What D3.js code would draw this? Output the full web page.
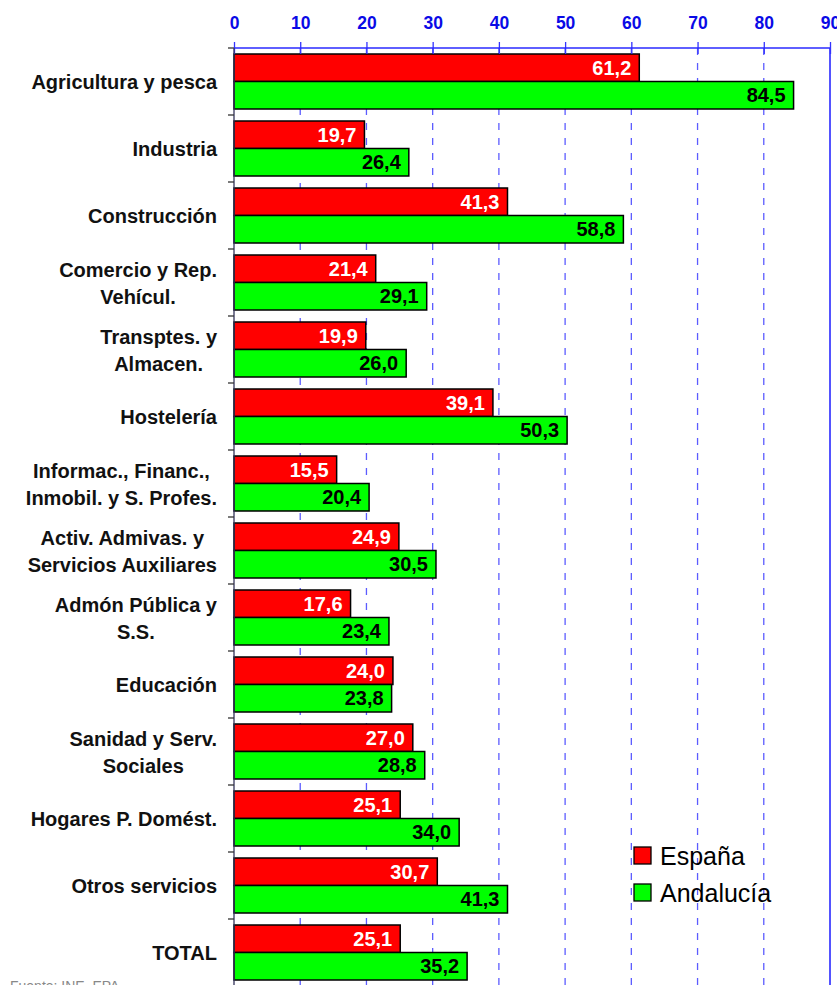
<!DOCTYPE html>
<html>
<head>
<meta charset="utf-8">
<script src="https://cdn.jsdelivr.net/npm/d3@7"></script>
<style>
  html, body { margin: 0; padding: 0; background: #fff; }
  svg { display: block; font-family: "Liberation Sans", Arial, sans-serif; }
</style>
</head>
<body>
<div id="app"></div>
<script>
const categories = [
  ['Agricultura y pesca'],
  ['Industria'],
  ['Construcción'],
  ['Comercio y Rep.', 'Vehícul.'],
  ['Transptes. y', 'Almacen.'],
  ['Hostelería'],
  ['Informac., Financ.,', 'Inmobil. y S. Profes.'],
  ['Activ. Admivas. y', 'Servicios Auxiliares'],
  ['Admón Pública y', 'S.S.'],
  ['Educación'],
  ['Sanidad y Serv.', 'Sociales'],
  ['Hogares P. Domést.'],
  ['Otros servicios'],
  ['TOTAL']
]
const series = ['España', 'Andalucía']
const espana = [61.2, 19.7, 41.3, 21.4, 19.9, 39.1, 15.5, 24.9, 17.6, 24.0, 27.0, 25.1, 30.7, 25.1]
const andalucia = [84.5, 26.4, 58.8, 29.1, 26.0, 50.3, 20.4, 30.5, 23.4, 23.8, 28.8, 34.0, 41.3, 35.2]
const ticks = [0, 10, 20, 30, 40, 50, 60, 70, 80, 90]
const source = 'Fuente: INE. EPA'

const colors = { 'España': '#ff0000', 'Andalucía': '#00ff00' }
const labelColors = { 'España': '#ffffff', 'Andalucía': '#000000' }

const width = 837
const height = 985
const m = { left: 234, right: 830, top: 48, bottom: 986 }

const keys = categories.map((d, i) => i)
const rows = keys.map(i => ({ i, name: categories[i], 'España': espana[i], 'Andalucía': andalucia[i] }))

const x = d3.scaleLinear().domain([0, 90]).range([m.left, m.right])
const y = d3.scaleBand().domain(keys).range([m.top, m.bottom])
const ySub = d3.scaleBand().domain(series).range([6, 61])

const fmt = v => d3.format('.1f')(v).replace('.', ',')

const svg = d3.select('#app')
  .append('svg')
  .attr('width', width)
  .attr('height', height)
  .attr('viewBox', [0, 0, width, height])

// vertical dashed gridlines
svg.append('g')
  .selectAll('line')
  .data(ticks.filter(t => t > 0 && t < 90))
  .join('line')
  .attr('x1', d => x(d)).attr('x2', d => x(d))
  .attr('y1', m.top).attr('y2', m.bottom)
  .attr('stroke', '#5c5cff')
  .attr('stroke-width', 1.3)
  .attr('stroke-dasharray', '7,8')

// right border
svg.append('line')
  .attr('x1', x(90)).attr('x2', x(90))
  .attr('y1', m.top).attr('y2', m.bottom)
  .attr('stroke', '#1a1aff')
  .attr('stroke-width', 1.5)

// bars
const group = svg.append('g')
  .selectAll('g')
  .data(rows)
  .join('g')
  .attr('transform', d => `translate(0,${y(d.i)})`)

group.selectAll('rect')
  .data(d => series.map(s => ({ s, v: d[s] })))
  .join('rect')
  .attr('x', x(0))
  .attr('y', d => ySub(d.s))
  .attr('width', d => x(d.v) - x(0))
  .attr('height', ySub.bandwidth())
  .attr('fill', d => colors[d.s])
  .attr('stroke', '#000')
  .attr('stroke-width', 1.5)

group.selectAll('text.val')
  .data(d => series.map(s => ({ s, v: d[s] })))
  .join('text')
  .attr('class', 'val')
  .attr('x', d => x(d.v) - 8)
  .attr('y', d => ySub(d.s) + ySub.bandwidth() / 2)
  .attr('dy', '0.36em')
  .attr('text-anchor', 'end')
  .attr('font-size', 20)
  .attr('font-weight', 'bold')
  .attr('fill', d => labelColors[d.s])
  .text(d => fmt(d.v))

// top axis
const axisTop = d3.axisTop(x).tickValues(ticks).tickSize(0).tickPadding(0)
const ax = svg.append('g')
  .attr('transform', `translate(0,${m.top})`)
  .call(axisTop)
ax.select('.domain').remove()
ax.selectAll('text')
  .attr('y', -19)
  .attr('font-size', 17.5)
  .attr('font-weight', 'bold')
  .attr('font-family', '"Liberation Sans", Arial, sans-serif')
  .attr('fill', '#0a0ae6')
ax.selectAll('.tick').append('line')
  .attr('y1', -6).attr('y2', 6)
  .attr('stroke', '#3333ff')
  .attr('stroke-width', 1.3)
svg.append('line')
  .attr('x1', m.left - 6).attr('x2', m.left)
  .attr('y1', m.top).attr('y2', m.top)
  .attr('stroke', '#333')
  .attr('stroke-width', 1.3)
svg.append('line')
  .attr('x1', m.left).attr('x2', m.right)
  .attr('y1', m.top).attr('y2', m.top)
  .attr('stroke', '#2a2aff')
  .attr('stroke-width', 1.6)

// left axis
svg.append('line')
  .attr('x1', m.left).attr('x2', m.left)
  .attr('y1', m.top).attr('y2', m.bottom)
  .attr('stroke', '#33335a')
  .attr('stroke-width', 1.3)
svg.append('g')
  .selectAll('line')
  .data(keys.slice(1))
  .join('line')
  .attr('x1', m.left - 6).attr('x2', m.left)
  .attr('y1', d => y(d)).attr('y2', d => y(d))
  .attr('stroke', '#333')
  .attr('stroke-width', 1.3)

// category labels
const labels = svg.append('g')
  .selectAll('text')
  .data(rows)
  .join('text')
  .attr('font-size', 20)
  .attr('font-weight', 'bold')
  .attr('fill', '#111')
  .attr('text-anchor', 'middle')

labels.each(function (d) {
  const t = d3.select(this)
  const n = d.name.length
  const cy = y(d.i) + 34
  d.name.forEach((line, k) => {
    t.append('tspan')
      .attr('y', cy + (k - (n - 1) / 2) * 27)
      .attr('dy', '0.36em')
      .text(line)
  })
  const spans = t.selectAll('tspan').nodes()
  const maxW = d3.max(spans, s => s.getComputedTextLength())
  t.selectAll('tspan').attr('x', 217 - maxW / 2)
})

// legend
const legend = svg.append('g')
  .selectAll('g')
  .data(series)
  .join('g')
  .attr('transform', (d, i) => `translate(634,${847 + i * 37})`)
legend.append('rect')
  .attr('width', 17).attr('height', 17)
  .attr('fill', d => colors[d])
  .attr('stroke', '#000')
  .attr('stroke-width', 1.3)
legend.append('text')
  .attr('x', 26).attr('y', 8.5)
  .attr('dy', '0.36em')
  .attr('font-size', 25)
  .attr('fill', '#000')
  .text(d => d)

// source
svg.append('text')
  .attr('x', 10).attr('y', 991)
  .attr('font-size', 14)
  .attr('fill', '#888')
  .text(source)
</script>
</body>
</html>
